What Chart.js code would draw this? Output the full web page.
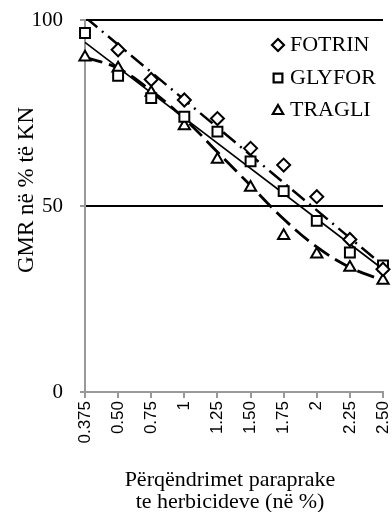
<!DOCTYPE html>
<html><head><meta charset="utf-8">
<script src="https://cdn.jsdelivr.net/npm/chart.js@4/dist/chart.umd.min.js"></script>
<style>html,body{margin:0;padding:0;background:#fff}#wrap{width:392px;height:512px;position:relative}</style>
</head><body><div id="wrap"><canvas id="c"></canvas></div>
<script>
// ---- data ----
const categories = ['0.375','0.50','0.75','1','1.25','1.50','1.75','2','2.25','2.50'];
const fotrin = [null, 92, 84, 78.5, 73.5, 65.5, 61, 52.5, 41, 33];
const glyfor = [96.5, 85, 79, 74, 70, 62, 54, 46, 37.5, 34];
const tragli = [90, 87, 80.5, 71.5, 62.5, 55, 42, 37, 33.5, 30];
// trend lines
const fotrinTrend = [100.8, null, null, null, null, null, null, null, null, 34];
const glyforTrend = [94, null, null, null, null, null, null, null, null, 33];
const tragliTrend = [90, 87, 81, 73.5, 64.5, 55.5, 46.5, 39, 33.5, 30];
const yTicks = [0, 50, 100];
const seriesNames = ['FOTRIN', 'GLYFOR', 'TRAGLI'];
const yTitle = 'GMR në % të KN';
const xTitle = ['Përqëndrimet paraprake', 'te herbicideve (në %)'];

const SERIF = "'Liberation Serif', 'Times New Roman', serif";
const SANS = "'Liberation Sans', Arial, sans-serif";

function pointDs(label, data, style, r) {
  return {label, data, showLine:false, pointStyle:style, pointRadius:r, pointHoverRadius:r,
    pointBackgroundColor:'#fff', pointBorderColor:'#000', pointBorderWidth:2, borderColor:'#000',
    backgroundColor:'#fff', clip:false, order:0};
}
function trendDs(data, dash, width, tension) {
  return {label:'trend', data, borderColor:'#000', borderWidth:width, borderDash:dash, pointRadius:0,
    pointHoverRadius:0, spanGaps:true, tension:tension, fill:false, order:1, isTrend:true};
}

const textPlugin = {
  id:'texts',
  afterDraw(chart) {
    const ctx = chart.ctx;
    ctx.save();
    ctx.fillStyle = '#000';
    // y title
    ctx.font = '23px ' + SERIF;
    ctx.textAlign = 'center';
    ctx.textBaseline = 'middle';
    ctx.save();
    ctx.translate(27, 190);
    ctx.rotate(-Math.PI/2);
    ctx.fillText(yTitle, 0, 0);
    ctx.restore();
    // x title
    ctx.font = '22px ' + SERIF;
    ctx.textBaseline = 'alphabetic';
    ctx.fillText(xTitle[0], 230, 486);
    ctx.fillText(xTitle[1], 230, 508);
    // legend
    const styles = ['rectRot','rect','triangle'];
    const radii = [6, 6.2, 6];
    const ys = [45, 78, 110];
    ctx.font = '22px ' + SERIF;
    ctx.textAlign = 'left';
    ctx.textBaseline = 'middle';
    for (let i = 0; i < 3; i++) {
      ctx.strokeStyle = '#000'; ctx.fillStyle = '#fff'; ctx.lineWidth = 2.2;
      Chart.helpers.drawPoint(ctx, {pointStyle:styles[i], radius:radii[i], borderWidth:2.2}, 278, ys[i] + (i===2?1:0));
      ctx.fillStyle = '#000';
      ctx.fillText(seriesNames[i], 290, ys[i]);
    }
    ctx.restore();
  }
};

new Chart(document.getElementById('c'), {
  type:'line',
  data:{
    labels:categories,
    datasets:[
      pointDs(seriesNames[0], fotrin, 'rectRot', 6.5),
      pointDs(seriesNames[1], glyfor, 'rect', 7),
      pointDs(seriesNames[2], tragli, 'triangle', 6.5),
      trendDs(fotrinTrend, [16,6,2,6], 2.5, 0),
      trendDs(glyforTrend, [], 1.6, 0),
      trendDs(tragliTrend, [18,7], 2.8, 0.4)
    ]
  },
  options:{
    responsive:true, maintainAspectRatio:false, animation:false,
    layout:{padding:{left:0, right:7, top:20, bottom:0}},
    plugins:{legend:{display:false}, tooltip:{enabled:false}},
    scales:{
      x:{
        offset:false,
        grid:{drawOnChartArea:false, color:'#999', tickColor:'#999', tickLength:6, lineWidth:2},
        border:{color:'#999', width:2},
        ticks:{maxRotation:90, minRotation:90, autoSkip:false, color:'#000', padding:3,
          font:{family:SANS, size:17}},
        afterFit(s){ s.height = 120; s.paddingLeft = 0; s.paddingRight = 0; }
      },
      y:{
        min:0, max:100,
        afterBuildTicks(s){ s.ticks = yTicks.map(v => ({value:v})); },
        grid:{color:c => c.tick && c.tick.value === 0 ? 'rgba(0,0,0,0)' : '#000', lineWidth:2,
          tickColor:'#999', tickLength:5},
        border:{color:'#999', width:2},
        ticks:{color:'#000', padding:17, font:{family:SERIF, size:21}},
        afterFit(s){ s.width = 85; s.paddingTop = 0; s.paddingBottom = 0; }
      }
    }
  },
  plugins:[textPlugin]
});
</script>
</body></html>
